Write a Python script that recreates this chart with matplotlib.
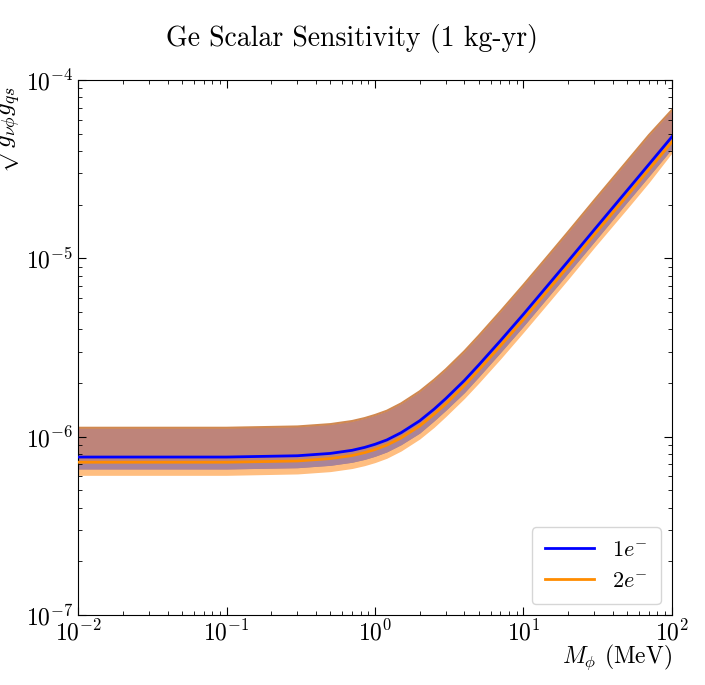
import numpy as np
import matplotlib
matplotlib.use("Agg")
import matplotlib.pyplot as plt

plt.rcParams['font.family'] = 'serif'
plt.rcParams['font.serif'] = ['cmr10', 'DejaVu Serif']
plt.rcParams['mathtext.fontset'] = 'cm'
plt.rcParams['axes.formatter.use_mathtext'] = True
plt.rcParams['axes.unicode_minus'] = False

mass = [0.01, 0.1, 0.3, 0.5, 0.7, 0.85, 1, 1.2, 1.5, 2, 2.5, 3, 4, 5, 7, 10, 15, 20, 30, 50, 70, 100]
blue_line = [7.7, 7.7, 7.83, 8.07, 8.4, 8.72, 9.08, 9.6, 10.55, 12.3, 14.3, 16.4, 20.7, 25.3, 34.6, 48.7, 72.7, 96.6, 145, 241, 337, 481]
blue_lo = [6.6, 6.6, 6.71, 6.92, 7.2, 7.47, 7.78, 8.23, 9.04, 10.5, 12.3, 14.1, 17.7, 21.7, 29.7, 41.7, 62.3, 82.8, 124, 207, 289, 412]
band_hi = [11.24, 11.24, 11.43, 11.78, 12.26, 12.73, 13.26, 14.0, 15.4, 18.0, 20.9, 23.9, 30.2, 36.9, 50.5, 71.1, 106, 141, 212, 352, 492, 680]
orange_line = [7.2, 7.2, 7.32, 7.55, 7.85, 8.15, 8.49, 8.98, 9.86, 11.5, 13.4, 15.3, 19.4, 23.7, 32.4, 45.5, 68.0, 90.3, 136, 225, 315, 450]
orange_lo = [6.08, 6.08, 6.19, 6.38, 6.64, 6.89, 7.17, 7.58, 8.33, 9.72, 11.3, 13.0, 16.4, 20.0, 27.3, 38.5, 57.4, 76.3, 115, 190, 266, 390]
scale = 1e-7

def s(v):
    return np.array(v) * scale

fig = plt.figure(figsize=(7.05, 6.85), dpi=100)
ax = fig.add_axes([0.111, 0.102, 0.842, 0.781])
ax.fill_between(mass, s(orange_lo), s(band_hi), color='#ffbe80', lw=0)
ax.plot(mass, s(band_hi), color='#d08850', lw=1.5)
ax.fill_between(mass, s(blue_lo), s(band_hi), color='#be847a', lw=0)
ax.fill_between(mass, s(blue_lo), s(orange_line), color='#a8849a', lw=0)
ax.plot(mass, s(orange_line), color='#ff8c00', lw=2, label=r'$2e^{-}$', zorder=3)
ax.plot(mass, s(blue_line), color='blue', lw=2, label=r'$1e^{-}$', zorder=4)
ax.set_xscale('log'); ax.set_yscale('log')
ax.set_xlim(1e-2, 1e2); ax.set_ylim(1e-7, 1e-4)
ax.tick_params(which='both', direction='in', top=True, right=True, labelsize=17)
ax.tick_params(which='major', length=6)
ax.tick_params(which='minor', length=3)
ax.set_ylabel(r'$\sqrt{g_{\nu\phi}g_{qs}}$', fontsize=18, loc='top', labelpad=2,
              fontfamily='DejaVu Sans')
ax.set_xlabel(r'$M_\phi$ (MeV)', fontsize=17, loc='right', labelpad=-2)
h, l = ax.get_legend_handles_labels()
ax.legend(h[::-1], l[::-1], loc='lower right', fontsize=16, handlelength=2.2, borderpad=0.6)
fig.suptitle('Ge Scalar Sensitivity (1 kg-yr)', fontsize=20, y=0.965)
fig.savefig('out.png', dpi=100)
